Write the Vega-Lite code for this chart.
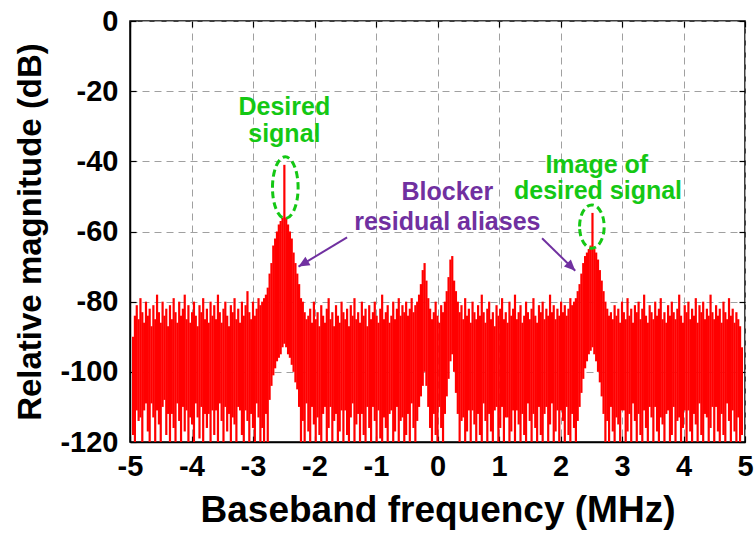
{
"$schema":"https://vega.github.io/schema/vega-lite/v6.json",
"width":615,"height":421,
"autosize":{"type":"none"},
"padding":{"left":130,"top":21,"right":11,"bottom":95},
"background":"white",
"config":{"view":{"stroke":"black","strokeWidth":1.5},"font":"Liberation Sans"},
"datasets":{
"spec":[
{"f":-4.95,"h":-90,"l":-118},{"f":-4.92,"h":-84,"l":-120},{"f":-4.89,"h":-81,"l":-111},{"f":-4.86,"h":-85,"l":-114},{"f":-4.83,"h":-79,"l":-113},{"f":-4.80,"h":-83,"l":-120},{"f":-4.77,"h":-86,"l":-111},{"f":-4.74,"h":-80,"l":-109},{"f":-4.71,"h":-84,"l":-117},{"f":-4.68,"h":-82,"l":-120},
{"f":-4.65,"h":-87,"l":-109},{"f":-4.62,"h":-81,"l":-113},{"f":-4.59,"h":-85,"l":-120},{"f":-4.56,"h":-78,"l":-111},{"f":-4.53,"h":-83,"l":-115},{"f":-4.50,"h":-86,"l":-120},{"f":-4.47,"h":-80,"l":-110},{"f":-4.44,"h":-84,"l":-108},{"f":-4.41,"h":-82,"l":-118},{"f":-4.38,"h":-87,"l":-112},
{"f":-4.35,"h":-81,"l":-120},{"f":-4.32,"h":-85,"l":-112},{"f":-4.29,"h":-79,"l":-116},{"f":-4.26,"h":-83,"l":-120},{"f":-4.23,"h":-86,"l":-109},{"f":-4.20,"h":-80,"l":-114},{"f":-4.17,"h":-84,"l":-120},{"f":-4.14,"h":-82,"l":-110},{"f":-4.11,"h":-78,"l":-117},{"f":-4.08,"h":-85,"l":-111},
{"f":-4.05,"h":-81,"l":-120},{"f":-4.02,"h":-86,"l":-113},{"f":-3.99,"h":-83,"l":-115},{"f":-3.96,"h":-80,"l":-120},{"f":-3.93,"h":-84,"l":-109},{"f":-3.90,"h":-87,"l":-113},{"f":-3.87,"h":-81,"l":-119},{"f":-3.84,"h":-83,"l":-110},{"f":-3.81,"h":-79,"l":-120},{"f":-3.78,"h":-85,"l":-112},
{"f":-3.75,"h":-82,"l":-116},{"f":-3.72,"h":-86,"l":-112},{"f":-3.69,"h":-80,"l":-120},{"f":-3.66,"h":-84,"l":-111},{"f":-3.63,"h":-81,"l":-118},{"f":-3.60,"h":-85,"l":-111},{"f":-3.57,"h":-78,"l":-120},{"f":-3.54,"h":-83,"l":-109},{"f":-3.51,"h":-86,"l":-114},{"f":-3.48,"h":-82,"l":-120},
{"f":-3.45,"h":-80,"l":-110},{"f":-3.42,"h":-84,"l":-117},{"f":-3.39,"h":-87,"l":-112},{"f":-3.36,"h":-81,"l":-120},{"f":-3.33,"h":-83,"l":-113},{"f":-3.30,"h":-79,"l":-115},{"f":-3.27,"h":-85,"l":-120},{"f":-3.24,"h":-82,"l":-110},{"f":-3.21,"h":-86,"l":-111},{"f":-3.18,"h":-80,"l":-118},
{"f":-3.15,"h":-84,"l":-120},{"f":-3.12,"h":-81,"l":-111},{"f":-3.09,"h":-77,"l":-114},{"f":-3.06,"h":-83,"l":-120},{"f":-3.03,"h":-85,"l":-112},{"f":-3.00,"h":-80,"l":-116},{"f":-2.97,"h":-84,"l":-120},{"f":-2.94,"h":-82,"l":-109},{"f":-2.91,"h":-79,"l":-113},{"f":-2.88,"h":-81,"l":-120},
{"f":-2.85,"h":-80,"l":-116},{"f":-2.82,"h":-79,"l":-120},{"f":-2.79,"h":-78,"l":-112},{"f":-2.76,"h":-76,"l":-120},{"f":-2.73,"h":-72,"l":-108},{"f":-2.70,"h":-69,"l":-104},{"f":-2.67,"h":-64,"l":-101},{"f":-2.64,"h":-62,"l":-99},{"f":-2.61,"h":-60,"l":-97},{"f":-2.58,"h":-58,"l":-96},
{"f":-2.55,"h":-57,"l":-95},{"f":-2.52,"h":-56,"l":-93},{"f":-2.49,"h":-41,"l":-92},{"f":-2.46,"h":-56,"l":-93},{"f":-2.43,"h":-58,"l":-95},{"f":-2.40,"h":-60,"l":-96},{"f":-2.37,"h":-62,"l":-98},{"f":-2.34,"h":-66,"l":-100},{"f":-2.31,"h":-69,"l":-103},{"f":-2.28,"h":-72,"l":-105},
{"f":-2.25,"h":-75,"l":-110},{"f":-2.22,"h":-79,"l":-120},{"f":-2.19,"h":-80,"l":-114},{"f":-2.16,"h":-83,"l":-120},{"f":-2.13,"h":-85,"l":-109},{"f":-2.10,"h":-84,"l":-117},{"f":-2.07,"h":-82,"l":-120},{"f":-2.04,"h":-86,"l":-110},{"f":-2.01,"h":-80,"l":-115},{"f":-1.98,"h":-85,"l":-120},
{"f":-1.95,"h":-83,"l":-113},{"f":-1.92,"h":-87,"l":-118},{"f":-1.89,"h":-81,"l":-120},{"f":-1.86,"h":-84,"l":-112},{"f":-1.83,"h":-86,"l":-110},{"f":-1.80,"h":-82,"l":-120},{"f":-1.77,"h":-79,"l":-116},{"f":-1.74,"h":-85,"l":-110},{"f":-1.71,"h":-83,"l":-120},{"f":-1.68,"h":-87,"l":-114},
{"f":-1.65,"h":-81,"l":-112},{"f":-1.62,"h":-84,"l":-120},{"f":-1.59,"h":-86,"l":-117},{"f":-1.56,"h":-80,"l":-111},{"f":-1.53,"h":-83,"l":-120},{"f":-1.50,"h":-85,"l":-111},{"f":-1.47,"h":-82,"l":-118},{"f":-1.44,"h":-87,"l":-120},{"f":-1.41,"h":-81,"l":-113},{"f":-1.38,"h":-84,"l":-109},
{"f":-1.35,"h":-79,"l":-120},{"f":-1.32,"h":-85,"l":-115},{"f":-1.29,"h":-83,"l":-112},{"f":-1.26,"h":-86,"l":-120},{"f":-1.23,"h":-80,"l":-112},{"f":-1.20,"h":-84,"l":-118},{"f":-1.17,"h":-82,"l":-120},{"f":-1.14,"h":-87,"l":-110},{"f":-1.11,"h":-81,"l":-116},{"f":-1.08,"h":-85,"l":-120},
{"f":-1.05,"h":-83,"l":-110},{"f":-1.02,"h":-80,"l":-114},{"f":-0.99,"h":-84,"l":-120},{"f":-0.96,"h":-86,"l":-111},{"f":-0.93,"h":-82,"l":-119},{"f":-0.90,"h":-78,"l":-120},{"f":-0.87,"h":-85,"l":-113},{"f":-0.84,"h":-83,"l":-116},{"f":-0.81,"h":-81,"l":-120},{"f":-0.78,"h":-86,"l":-112},
{"f":-0.75,"h":-84,"l":-111},{"f":-0.72,"h":-80,"l":-120},{"f":-0.69,"h":-85,"l":-117},{"f":-0.66,"h":-82,"l":-110},{"f":-0.63,"h":-79,"l":-120},{"f":-0.60,"h":-84,"l":-114},{"f":-0.57,"h":-81,"l":-113},{"f":-0.54,"h":-83,"l":-120},{"f":-0.51,"h":-80,"l":-118},{"f":-0.48,"h":-84,"l":-112},
{"f":-0.45,"h":-82,"l":-120},{"f":-0.42,"h":-79,"l":-109},{"f":-0.39,"h":-83,"l":-116},{"f":-0.36,"h":-81,"l":-120},{"f":-0.33,"h":-80,"l":-114},{"f":-0.30,"h":-78,"l":-110},{"f":-0.27,"h":-75,"l":-107},{"f":-0.24,"h":-71,"l":-104},{"f":-0.21,"h":-69,"l":-100},{"f":-0.18,"h":-74,"l":-104},
{"f":-0.15,"h":-79,"l":-110},{"f":-0.12,"h":-82,"l":-116},{"f":-0.09,"h":-85,"l":-120},{"f":-0.06,"h":-83,"l":-112},{"f":-0.03,"h":-80,"l":-118},{"f":0.00,"h":-84,"l":-120},{"f":0.03,"h":-86,"l":-110},{"f":0.06,"h":-81,"l":-116},{"f":0.09,"h":-83,"l":-120},{"f":0.12,"h":-80,"l":-112},
{"f":0.15,"h":-77,"l":-107},{"f":0.18,"h":-73,"l":-102},{"f":0.21,"h":-68,"l":-97},{"f":0.24,"h":-67,"l":-95},{"f":0.27,"h":-74,"l":-100},{"f":0.30,"h":-77,"l":-106},{"f":0.33,"h":-80,"l":-112},{"f":0.36,"h":-83,"l":-120},{"f":0.39,"h":-81,"l":-114},{"f":0.42,"h":-85,"l":-113},
{"f":0.45,"h":-79,"l":-120},{"f":0.48,"h":-84,"l":-117},{"f":0.51,"h":-82,"l":-111},{"f":0.54,"h":-86,"l":-120},{"f":0.57,"h":-80,"l":-111},{"f":0.60,"h":-83,"l":-115},{"f":0.63,"h":-85,"l":-120},{"f":0.66,"h":-81,"l":-112},{"f":0.69,"h":-84,"l":-118},{"f":0.72,"h":-78,"l":-120},
{"f":0.75,"h":-83,"l":-109},{"f":0.78,"h":-86,"l":-114},{"f":0.81,"h":-82,"l":-120},{"f":0.84,"h":-80,"l":-112},{"f":0.87,"h":-85,"l":-117},{"f":0.90,"h":-83,"l":-120},{"f":0.93,"h":-87,"l":-111},{"f":0.96,"h":-81,"l":-110},{"f":0.99,"h":-84,"l":-120},{"f":1.02,"h":-82,"l":-116},
{"f":1.05,"h":-79,"l":-110},{"f":1.08,"h":-85,"l":-120},{"f":1.11,"h":-83,"l":-113},{"f":1.14,"h":-86,"l":-113},{"f":1.17,"h":-80,"l":-120},{"f":1.20,"h":-84,"l":-117},{"f":1.23,"h":-82,"l":-111},{"f":1.26,"h":-78,"l":-120},{"f":1.29,"h":-85,"l":-111},{"f":1.32,"h":-83,"l":-115},
{"f":1.35,"h":-81,"l":-120},{"f":1.38,"h":-86,"l":-112},{"f":1.41,"h":-84,"l":-118},{"f":1.44,"h":-80,"l":-120},{"f":1.47,"h":-83,"l":-109},{"f":1.50,"h":-85,"l":-114},{"f":1.53,"h":-82,"l":-120},{"f":1.56,"h":-79,"l":-112},{"f":1.59,"h":-84,"l":-116},{"f":1.62,"h":-86,"l":-120},
{"f":1.65,"h":-81,"l":-110},{"f":1.68,"h":-83,"l":-118},{"f":1.71,"h":-80,"l":-120},{"f":1.74,"h":-85,"l":-112},{"f":1.77,"h":-82,"l":-110},{"f":1.80,"h":-84,"l":-120},{"f":1.83,"h":-78,"l":-115},{"f":1.86,"h":-83,"l":-109},{"f":1.89,"h":-81,"l":-120},{"f":1.92,"h":-85,"l":-117},
{"f":1.95,"h":-82,"l":-111},{"f":1.98,"h":-84,"l":-120},{"f":2.01,"h":-80,"l":-111},{"f":2.04,"h":-83,"l":-114},{"f":2.07,"h":-81,"l":-120},{"f":2.10,"h":-84,"l":-110},{"f":2.13,"h":-82,"l":-118},{"f":2.16,"h":-79,"l":-120},{"f":2.19,"h":-81,"l":-112},{"f":2.22,"h":-80,"l":-116},
{"f":2.25,"h":-79,"l":-120},{"f":2.28,"h":-77,"l":-114},{"f":2.31,"h":-75,"l":-110},{"f":2.34,"h":-72,"l":-106},{"f":2.37,"h":-69,"l":-102},{"f":2.40,"h":-67,"l":-99},{"f":2.43,"h":-66,"l":-97},{"f":2.46,"h":-65,"l":-95},{"f":2.49,"h":-64,"l":-94},{"f":2.52,"h":-54.7,"l":-93},
{"f":2.55,"h":-65,"l":-95},{"f":2.58,"h":-66,"l":-97},{"f":2.61,"h":-68,"l":-100},{"f":2.64,"h":-71,"l":-103},{"f":2.67,"h":-74,"l":-107},{"f":2.70,"h":-77,"l":-112},{"f":2.73,"h":-80,"l":-120},{"f":2.76,"h":-82,"l":-114},{"f":2.79,"h":-84,"l":-120},{"f":2.82,"h":-83,"l":-110},
{"f":2.85,"h":-85,"l":-117},{"f":2.88,"h":-81,"l":-120},{"f":2.91,"h":-84,"l":-113},{"f":2.94,"h":-82,"l":-115},{"f":2.97,"h":-86,"l":-120},{"f":3.00,"h":-80,"l":-111},{"f":3.03,"h":-83,"l":-111},{"f":3.06,"h":-85,"l":-120},{"f":3.09,"h":-79,"l":-117},{"f":3.12,"h":-84,"l":-112},
{"f":3.15,"h":-82,"l":-120},{"f":3.18,"h":-86,"l":-109},{"f":3.21,"h":-81,"l":-114},{"f":3.24,"h":-83,"l":-120},{"f":3.27,"h":-80,"l":-112},{"f":3.30,"h":-85,"l":-118},{"f":3.33,"h":-82,"l":-120},{"f":3.36,"h":-78,"l":-111},{"f":3.39,"h":-84,"l":-116},{"f":3.42,"h":-86,"l":-120},
{"f":3.45,"h":-81,"l":-110},{"f":3.48,"h":-83,"l":-113},{"f":3.51,"h":-85,"l":-120},{"f":3.54,"h":-80,"l":-110},{"f":3.57,"h":-84,"l":-117},{"f":3.60,"h":-82,"l":-120},{"f":3.63,"h":-79,"l":-113},{"f":3.66,"h":-85,"l":-115},{"f":3.69,"h":-83,"l":-120},{"f":3.72,"h":-86,"l":-112},
{"f":3.75,"h":-81,"l":-111},{"f":3.78,"h":-84,"l":-120},{"f":3.81,"h":-80,"l":-118},{"f":3.84,"h":-83,"l":-110},{"f":3.87,"h":-85,"l":-120},{"f":3.90,"h":-82,"l":-114},{"f":3.93,"h":-78,"l":-113},{"f":3.96,"h":-84,"l":-120},{"f":3.99,"h":-86,"l":-116},{"f":4.02,"h":-81,"l":-111},
{"f":4.05,"h":-83,"l":-120},{"f":4.08,"h":-80,"l":-111},{"f":4.11,"h":-85,"l":-117},{"f":4.14,"h":-82,"l":-120},{"f":4.17,"h":-84,"l":-112},{"f":4.20,"h":-79,"l":-115},{"f":4.23,"h":-86,"l":-120},{"f":4.26,"h":-81,"l":-109},{"f":4.29,"h":-83,"l":-118},{"f":4.32,"h":-80,"l":-120},
{"f":4.35,"h":-85,"l":-112},{"f":4.38,"h":-82,"l":-113},{"f":4.41,"h":-84,"l":-120},{"f":4.44,"h":-78,"l":-116},{"f":4.47,"h":-83,"l":-110},{"f":4.50,"h":-85,"l":-120},{"f":4.53,"h":-81,"l":-110},{"f":4.56,"h":-84,"l":-117},{"f":4.59,"h":-82,"l":-120},{"f":4.62,"h":-86,"l":-112},
{"f":4.65,"h":-80,"l":-118},{"f":4.68,"h":-83,"l":-120},{"f":4.71,"h":-85,"l":-109},{"f":4.74,"h":-79,"l":-114},{"f":4.77,"h":-84,"l":-120},{"f":4.80,"h":-82,"l":-111},{"f":4.83,"h":-86,"l":-117},{"f":4.86,"h":-83,"l":-120},{"f":4.89,"h":-85,"l":-113},{"f":4.92,"h":-87,"l":-120},
{"f":4.95,"h":-93,"l":-118}
],
"notes":[
{"f":-2.49,"m":-26.8,"t":"Desired","g":"s"},
{"f":-2.49,"m":-34.4,"t":"signal","g":"s"},
{"f":2.59,"m":-43.2,"t":"Image of","g":"s"},
{"f":2.61,"m":-50.7,"t":"desired signal","g":"s"},
{"f":0.16,"m":-51.0,"t":"Blocker","g":"b"},
{"f":0.16,"m":-59.6,"t":"residual aliases","g":"b"}
],
"ellipses":[
{"id":"d","f":-2.475,"m":-47.5},
{"id":"i","f":2.51,"m":-58.6}
],
"arrows":[
{"a":"1","f":-1.47,"m":-61.7},{"a":"1","f":-2.26,"m":-70.0},
{"a":"2","f":1.70,"m":-61.9},{"a":"2","f":2.24,"m":-71.2}
]
},
"layer":[
{"data":{"name":"spec"},
 "mark":{"type":"rule","color":"#ff0000","strokeWidth":2.2},
 "encoding":{
  "x":{"field":"f","type":"quantitative","scale":{"domain":[-5,5],"nice":false,"zero":false},
   "axis":{"values":[-5,-4,-3,-2,-1,0,1,2,3,4,5],"labelExpr":"'' + datum.value","title":"Baseband frequency (MHz)","grid":true,"gridDash":[7,5],"gridColor":"#a0a0a0","gridWidth":1,
    "labelFont":"Liberation Sans","labelFontSize":29,"labelFontWeight":"bold","labelColor":"black","labelPadding":16,"labelFlush":false,"labelOverlap":false,
    "titleFont":"Liberation Sans","titleFontSize":37,"titleFontWeight":"bold","titleColor":"black","titlePadding":11,
    "tickSize":-6,"tickColor":"black","tickWidth":1.2,"domainColor":"black","domainWidth":1.5}},
  "y":{"field":"h","type":"quantitative","scale":{"domain":[-120,0],"nice":false,"zero":false},
   "axis":{"values":[-120,-100,-80,-60,-40,-20,0],"labelExpr":"'' + datum.value","title":"Relative magnitude (dB)","grid":true,"gridDash":[7,5],"gridColor":"#a0a0a0","gridWidth":1,
    "labelFont":"Liberation Sans","labelFontSize":29,"labelFontWeight":"bold","labelColor":"black","labelPadding":18,"labelFlush":false,"labelOverlap":false,
    "titleFont":"Liberation Sans","titleFontSize":33,"titleFontWeight":"bold","titleColor":"black","titlePadding":12,
    "tickSize":-6,"tickColor":"black","tickWidth":1.2,"domainColor":"black","domainWidth":1.5}},
  "y2":{"field":"l"}
 }},
{"data":{"name":"ellipses"},
 "transform":[{"filter":"datum.id == 'd'"}],
 "mark":{"type":"point","shape":"M -0.416 0 A 0.416 1 0 1 1 0.416 0 A 0.416 1 0 1 1 -0.416 0 Z","size":3795,"filled":false,"stroke":"#14c814","strokeWidth":3,"strokeDash":[7,4],"opacity":1},
 "encoding":{
  "x":{"field":"f","type":"quantitative","axis":{"orient":"top","labels":false,"grid":false,"title":null,"tickSize":-6,"tickColor":"black","tickWidth":1.2,"domain":false,"values":[-5,-4,-3,-2,-1,0,1,2,3,4,5]}},
  "y":{"field":"m","type":"quantitative","axis":{"orient":"right","labels":false,"grid":false,"title":null,"tickSize":-6,"tickColor":"black","tickWidth":1.2,"domain":false,"values":[-120,-100,-80,-60,-40,-20,0]}}
 }},
{"data":{"name":"ellipses"},
 "transform":[{"filter":"datum.id == 'i'"}],
 "mark":{"type":"point","shape":"M -0.567 0 A 0.567 1 0 1 1 0.567 0 A 0.567 1 0 1 1 -0.567 0 Z","size":1884,"filled":false,"stroke":"#14c814","strokeWidth":3,"strokeDash":[7,4],"opacity":1},
 "encoding":{
  "x":{"field":"f","type":"quantitative","axis":null},
  "y":{"field":"m","type":"quantitative","axis":null}
 }},
{"data":{"name":"arrows"},
 "mark":{"type":"line","color":"#7030a0","strokeWidth":2},
 "encoding":{
  "x":{"field":"f","type":"quantitative","axis":null},
  "y":{"field":"m","type":"quantitative","axis":null},
  "detail":{"field":"a"}
 }},
{"data":{"name":"arrows"},
 "transform":[{"filter":"datum.a == '1' && datum.f < -2"}],
 "mark":{"type":"point","shape":"M 0 0 L 0.45 1 L -0.45 1 Z","size":484,"filled":true,"color":"#7030a0","opacity":1,"angle":239},
 "encoding":{
  "x":{"field":"f","type":"quantitative","axis":null},
  "y":{"field":"m","type":"quantitative","axis":null}
 }},
{"data":{"name":"arrows"},
 "transform":[{"filter":"datum.a == '2' && datum.f > 2"}],
 "mark":{"type":"point","shape":"M 0 0 L 0.45 1 L -0.45 1 Z","size":484,"filled":true,"color":"#7030a0","opacity":1,"angle":134.5},
 "encoding":{
  "x":{"field":"f","type":"quantitative","axis":null},
  "y":{"field":"m","type":"quantitative","axis":null}
 }},
{"data":{"name":"notes"},
 "mark":{"type":"text","font":"Liberation Sans","fontWeight":"bold","fontSize":25,"align":"center","baseline":"alphabetic"},
 "encoding":{
  "x":{"field":"f","type":"quantitative","axis":null},
  "y":{"field":"m","type":"quantitative","axis":null},
  "text":{"field":"t"},
  "color":{"field":"g","type":"nominal","scale":{"domain":["s","b"],"range":["#14c814","#7030a0"]},"legend":null}
 }}
],
"resolve":{"axis":{"x":"independent","y":"independent"}}
}
